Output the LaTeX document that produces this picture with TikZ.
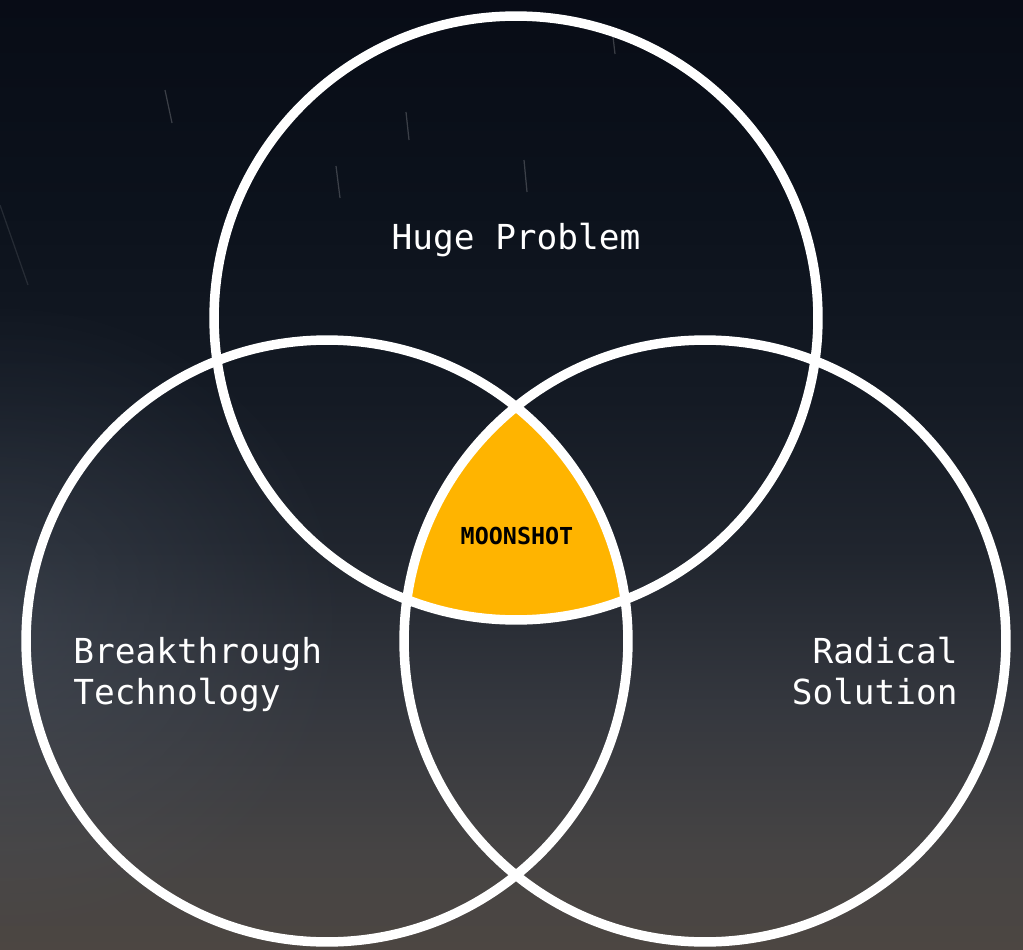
\documentclass[tikz,border=0pt]{standalone}
\usepackage{fontspec}
\usetikzlibrary{fadings}
\newfontfamily\venntype{DejaVu Sans Mono}
\definecolor{moonyellow}{HTML}{FFB400}
\definecolor{skyglow}{RGB}{92,102,116}
\definecolor{skyA}{RGB}{76,70,66}
\definecolor{skyB}{RGB}{70,68,68}
\definecolor{skyC}{RGB}{52,55,62}
\definecolor{skyD}{RGB}{32,37,46}
\definecolor{skyE}{RGB}{20,26,36}
\definecolor{skyF}{RGB}{12,18,28}
\definecolor{skyG}{RGB}{8,12,22}
\pgfdeclareverticalshading{nightsky}{100bp}{color(0bp)=(skyA); color(25bp)=(skyA);
  color(30bp)=(skyB); color(38bp)=(skyC); color(46bp)=(skyD); color(54bp)=(skyE);
  color(64bp)=(skyF); color(75bp)=(skyG); color(100bp)=(skyG)}
\tikzfading[name=glowfade, inner color=transparent!0, outer color=transparent!100]
\begin{document}
\begin{tikzpicture}[x=0.02cm, y=-0.02cm,
    ring/.style={draw=white, line width=5.4pt},
    venntext/.style={text=white, inner sep=0pt, font=\venntype\fontsize{19.6}{19}\selectfont},
    streak/.style={white, opacity=0.2, line width=0.7pt}]
   \useasboundingbox (0,0) rectangle (1023,949);
   % sky
   \shade[shading=nightsky] (0,0) rectangle (1023,949);
   \fill[skyglow, path fading=glowfade, opacity=0.3] (0,620) ellipse [x radius=7cm, y radius=6.5cm];
   \draw[streak] (165,90) -- (172,123);
   \draw[streak] (336,166) -- (340,198);
   \draw[streak] (406,112) -- (409,140);
   \draw[streak] (524,160) -- (527,192);
   \draw[streak] (612,28) -- (615,54);
   \draw[streak, opacity=0.1] (0,205) -- (28,285);
   % circles
   \coordinate (problem) at (516,318);
   \coordinate (technology) at (327,641);
   \coordinate (solution) at (705,641);
   \begin{scope}
     \clip (problem) circle [radius=6.04cm];
     \clip (technology) circle [radius=6.02cm];
     \fill[moonyellow] (solution) circle [radius=6.02cm];
   \end{scope}
   \draw[ring] (problem) circle [radius=6.04cm];
   \draw[ring] (technology) circle [radius=6.02cm];
   \draw[ring] (solution) circle [radius=6.02cm];
   % labels
   \node[venntext, anchor=base] (huge) at (516,250) {Huge Problem};
   \node[venntext, anchor=base west] (breakthrough) at (73,663) {Breakthrough};
   \node[venntext, anchor=base west] (tech) at (73,704) {Technology};
   \node[venntext, anchor=base east] (radical) at (958,663) {Radical};
   \node[venntext, anchor=base east] (sol) at (958,704) {Solution};
   \node[inner sep=0pt, anchor=base, font=\venntype\bfseries\fontsize{13.3}{14}\selectfont] (moonshot) at (517,544) {MOONSHOT};
\end{tikzpicture}
\end{document}
